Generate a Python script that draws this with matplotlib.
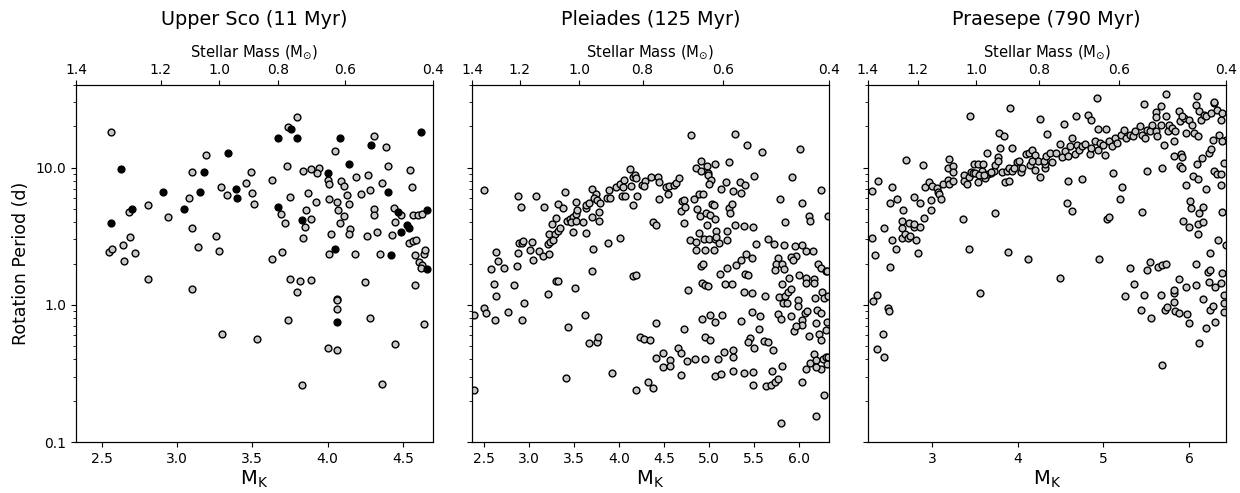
import numpy as np
import matplotlib
matplotlib.use("Agg")
import matplotlib.pyplot as plt
from matplotlib.ticker import FuncFormatter

# Upper Sco: (M_K, period in days); two groups of stars
usco_gray = [(2.56, 18.3), (2.55, 2.42), (2.57, 2.55), (2.64, 2.71), (2.69, 3.10), (2.68, 4.71), (2.65, 2.09),
             (2.72, 2.38), (2.81, 5.32), (2.81, 1.54), (2.94, 4.38), (3.08, 6.05), (3.10, 9.3), (3.10, 3.62),
             (3.10, 1.31), (3.14, 2.65), (3.19, 12.3), (3.26, 3.20), (3.28, 2.47), (3.29, 7.2), (3.33, 6.33),
             (3.30, 0.617), (3.46, 7.78), (3.49, 9.25), (3.50, 6.48), (3.51, 5.47), (3.53, 0.565), (3.63, 2.17),
             (3.63, 8.13), (3.73, 10.2), (3.75, 6.15), (3.74, 19.9), (3.80, 23.2), (3.69, 4.58), (3.72, 3.94),
             (3.70, 2.44), (3.75, 1.55), (3.82, 1.49), (3.89, 1.52), (3.80, 1.25), (3.74, 0.771), (3.83, 0.260),
             (3.84, 9.46), (3.89, 9.72), (3.94, 9.89), (3.93, 9.2), (3.87, 6.58), (3.86, 4.87), (3.85, 3.70),
             (3.84, 3.07), (3.89, 4.19), (3.92, 5.60), (4.00, 8.13), (4.01, 7.6), (4.01, 5.92), (4.02, 3.27),
             (4.01, 2.34), (4.05, 13.3), (4.06, 5.6), (4.07, 4.90), (4.09, 8.0), (4.11, 7.36), (4.13, 6.3),
             (4.14, 5.44), (4.11, 4.41), (4.08, 3.92), (4.15, 3.56), (4.14, 3.26), (4.18, 2.33), (4.06, 1.11),
             (4.06, 1.08), (4.06, 0.927), (4.00, 0.487), (4.06, 0.467), (4.19, 8.55), (4.22, 6.43), (4.27, 8.85),
             (4.28, 6.89), (4.31, 17.1), (4.31, 4.96), (4.31, 4.53), (4.33, 3.41), (4.26, 3.17), (4.25, 1.46),
             (4.28, 0.802), (4.36, 7.69), (4.35, 2.36), (4.36, 0.265), (4.39, 14.2), (4.40, 10.2), (4.43, 3.24),
             (4.44, 5.09), (4.45, 4.03), (4.49, 4.53), (4.45, 0.522), (4.55, 9.57), (4.56, 7.28), (4.57, 4.5),
             (4.54, 2.83), (4.57, 2.9), (4.59, 2.99), (4.58, 2.32), (4.58, 1.39), (4.61, 2.04), (4.63, 1.95),
             (4.62, 1.87), (4.64, 2.34), (4.65, 2.49), (4.64, 0.730), (4.60, 4.53), (4.63, 4.58)]
usco_black = [(2.56, 3.98), (2.63, 9.84), (2.70, 4.97), (2.91, 6.65), (3.05, 4.97), (3.15, 6.65), (3.18, 9.35),
              (3.34, 12.8), (3.39, 7.0), (3.40, 5.98), (3.67, 16.5), (3.67, 5.12), (3.76, 19.0), (3.80, 16.3),
              (3.83, 4.14), (4.05, 2.55), (4.06, 0.747), (4.08, 16.5), (4.14, 10.7), (4.29, 14.5), (4.40, 6.68),
              (4.42, 2.29), (4.47, 4.71), (4.49, 3.41), (4.53, 3.79), (4.54, 3.64), (4.62, 18.2), (4.66, 1.83),
              (4.66, 4.92), (4.00, 9.1)]

pleiades = [(2.50, 6.88), (2.88, 6.19), (3.08, 6.19), (2.91, 5.12), (3.17, 5.12), (3.40, 6.68), (3.32, 5.44),
            (3.38, 5.04), (3.30, 4.29), (3.26, 3.85), (3.22, 3.26), (3.29, 3.29), (3.32, 3.44), (3.35, 3.60),
            (3.42, 4.05), (3.46, 4.19), (3.49, 4.38), (3.52, 4.58), (3.54, 4.92), (3.52, 5.60), (3.47, 4.00),
            (3.52, 4.05), (3.49, 3.39), (3.60, 4.00), (3.64, 3.31), (3.63, 5.04), (3.64, 5.38), (3.67, 5.51),
            (3.70, 6.95), (3.75, 6.37), (3.72, 5.96), (3.76, 5.78), (3.79, 5.51), (3.78, 4.71), (3.70, 4.33),
            (3.78, 4.09), (3.71, 2.55), (3.88, 2.82), (4.01, 3.08), (3.87, 6.01), (3.90, 6.01), (3.89, 6.92),
            (3.97, 7.28), (4.01, 7.60), (4.06, 8.09), (4.05, 7.23), (4.04, 6.22), (4.07, 6.22), (4.12, 9.84),
            (4.13, 7.31), (4.16, 8.55), (4.18, 8.89), (4.19, 8.36), (4.20, 6.19), (4.16, 5.35), (4.26, 7.45),
            (4.29, 7.96), (4.28, 7.31), (4.16, 1.62), (4.19, 1.66), (3.70, 1.76), (3.51, 1.33), (3.30, 1.48),
            (3.32, 1.48), (3.21, 1.20), (3.62, 0.843), (3.44, 0.693), (3.67, 0.528), (3.76, 0.540), (3.77, 0.581),
            (3.41, 0.295), (3.92, 0.318), (4.19, 0.238), (4.23, 0.583), (4.28, 0.565), (4.34, 0.552), (4.32, 0.272),
            (2.39, 0.241), (2.39, 0.849), (2.50, 0.944), (2.53, 0.877), (2.63, 0.780), (2.77, 0.887), (2.93, 0.780),
            (2.95, 1.03), (2.64, 1.15), (2.61, 1.42), (2.58, 1.83), (2.66, 2.07), (2.64, 2.41), (2.73, 1.86),
            (2.84, 1.40), (2.87, 1.91), (2.88, 2.40), (2.89, 2.80), (2.92, 2.81), (2.94, 2.94), (3.01, 2.51),
            (3.04, 2.86), (3.05, 2.13), (3.11, 2.48), (3.16, 2.28), (3.22, 2.35), (3.21, 2.79), (3.24, 2.88),
            (3.27, 2.98),
            (4.80, 17.3), (5.29, 17.6), (5.42, 14.6), (5.59, 13.1), (6.01, 13.7), (4.91, 11.2), (4.85, 9.95),
            (4.91, 9.46), (4.98, 10.2), (4.99, 9.15), (4.99, 8.8), (5.02, 8.18), (5.07, 10.7), (5.22, 11.0),
            (5.00, 7.6), (4.36, 8.51), (4.43, 8.6), (4.45, 7.87), (4.52, 7.23), (4.56, 7.4), (4.55, 6.44),
            (4.61, 7.48), (4.63, 7.78), (4.67, 8.41), (4.45, 5.95), (5.13, 6.95), (5.19, 7.82), (5.27, 6.76),
            (5.34, 7.87), (5.40, 7.52), (5.35, 6.58), (5.50, 8.65), (5.92, 8.6), (6.24, 6.89), (5.79, 5.92),
            (6.03, 5.53), (4.70, 5.73), (4.72, 5.79), (4.69, 4.82), (4.73, 5.2), (4.83, 5.92), (4.89, 6.44),
            (4.93, 6.47), (4.87, 4.98), (4.90, 4.43), (4.97, 4.66), (5.03, 5.47), (5.06, 5.38), (5.01, 4.53),
            (5.07, 4.24), (4.98, 3.81), (5.08, 3.44), (5.22, 5.09), (5.25, 5.44), (5.23, 4.66), (5.20, 3.48),
            (5.29, 3.83), (5.39, 3.77), (5.49, 3.71), (6.11, 4.41), (6.12, 4.07), (5.84, 4.03), (4.38, 4.01),
            (4.41, 3.83), (4.72, 3.96), (4.79, 2.98), (4.85, 2.86), (4.89, 3.35), (4.94, 3.03), (5.00, 3.03),
            (5.07, 3.03), (5.11, 2.80), (5.08, 3.10), (5.20, 2.99), (4.86, 2.49), (4.95, 2.49), (5.06, 2.50),
            (5.52, 2.79), (5.65, 3.03), (5.72, 2.79), (5.83, 2.71), (5.95, 2.69), (6.03, 2.72), (6.07, 2.46),
            (6.15, 2.45), (5.97, 2.28), (5.91, 2.23), (5.93, 2.11), (4.91, 1.92), (4.93, 1.97), (5.20, 1.85),
            (5.30, 1.96), (5.36, 2.12), (5.41, 2.33), (5.48, 2.21), (5.40, 1.69), (5.43, 1.64), (5.12, 1.69),
            (5.76, 2.18), (5.74, 1.99), (5.81, 1.98), (5.73, 1.79), (5.83, 1.83), (6.21, 1.97), (6.24, 1.85),
            (6.30, 1.76), (6.00, 1.66), (6.08, 1.57), (6.08, 1.45), (6.16, 1.53), (6.16, 1.43), (5.89, 1.57),
            (5.81, 1.42), (4.77, 1.29), (4.92, 1.43), (4.96, 1.39), (4.99, 1.38), (5.18, 1.41), (5.25, 1.41),
            (5.39, 1.25), (5.48, 1.21), (5.62, 1.15), (5.78, 1.14), (5.84, 1.16), (5.88, 1.25), (5.91, 1.31),
            (5.82, 1.03), (5.86, 1.03), (5.99, 1.09), (5.99, 0.976), (6.06, 0.867), (6.09, 0.901), (6.18, 1.13),
            (6.25, 1.23), (6.27, 1.12), (6.20, 0.923), (6.24, 0.867), (4.41, 0.738), (4.72, 0.671), (4.92, 0.785),
            (5.01, 0.844), (5.07, 0.75), (5.14, 0.839), (5.35, 0.768), (5.48, 0.891), (5.57, 0.83), (5.55, 0.667),
            (5.77, 0.863), (5.80, 0.785), (5.91, 0.834), (6.03, 0.776), (6.03, 0.718), (5.94, 0.646), (5.96, 0.698),
            (6.19, 0.738), (6.22, 0.614), (6.11, 0.593), (6.24, 0.555), (6.30, 0.659), (4.96, 0.587), (5.01, 0.555),
            (5.45, 0.571), (5.43, 0.537), (5.50, 0.483), (5.61, 0.549), (5.65, 0.537), (5.71, 0.467), (4.66, 0.485),
            (4.69, 0.449), (4.49, 0.444), (4.41, 0.408), (4.57, 0.399), (4.49, 0.353), (4.57, 0.359), (4.75, 0.391),
            (4.84, 0.402), (4.95, 0.404), (5.10, 0.404), (5.17, 0.452), (5.27, 0.472), (5.27, 0.415), (4.69, 0.309),
            (5.07, 0.304), (5.13, 0.313), (5.27, 0.328), (5.39, 0.32), (5.49, 0.325), (5.49, 0.26), (5.63, 0.258),
            (5.69, 0.26), (5.73, 0.273), (5.77, 0.286), (5.70, 0.332), (5.81, 0.361), (6.03, 0.276), (6.07, 0.338),
            (6.12, 0.374), (6.16, 0.44), (6.19, 0.393), (6.24, 0.343), (6.26, 0.404), (6.30, 0.418), (6.19, 0.351),
            (6.28, 0.22), (6.19, 0.155), (5.80, 0.137), (4.38, 0.247),
            (6.32, 4.45), (6.31, 1.75), (6.32, 1.15), (6.31, 0.75), (6.32, 0.42), (6.31, 0.37)]

praesepe = [(2.30, 6.80), (2.36, 7.96), (2.53, 7.28), (2.50, 5.53), (2.59, 5.95), (2.78, 6.15), (2.86, 5.53),
            (2.66, 4.92), (2.69, 11.3), (2.89, 10.4), (2.91, 7.28), (2.96, 7.82), (2.99, 5.85), (2.99, 4.95),
            (3.00, 7.40), (3.06, 7.11), (3.07, 6.62), (3.08, 6.37), (3.10, 5.92), (3.13, 7.65), (3.18, 8.13),
            (3.19, 7.60), (3.20, 11.5), (3.18, 10.0), (3.24, 10.2), (3.24, 9.25), (3.24, 8.0), (3.37, 8.8),
            (3.37, 7.96), (3.41, 7.57), (3.43, 8.51), (3.45, 9.3), (3.48, 9.1), (3.50, 9.15), (3.49, 10.6),
            (3.53, 10.6), (3.53, 7.82), (3.58, 9.4), (3.59, 10.7), (3.61, 8.46), (3.64, 12.7), (3.65, 9.0),
            (3.68, 9.1), (3.72, 9.4), (3.73, 10.4), (3.77, 11.9), (3.77, 11.1), (3.81, 9.35), (3.85, 7.91),
            (3.90, 7.96), (3.87, 9.5), (3.90, 9.89), (3.93, 9.46), (3.99, 11.0), (4.01, 11.2), (4.04, 9.3),
            (4.09, 12.6), (4.13, 12.7), (4.17, 13.4), (4.14, 10.4), (4.20, 12.4), (4.24, 11.2), (4.26, 8.51),
            (4.20, 9.66), (4.32, 10.0), (4.32, 10.6), (3.44, 23.6), (3.91, 27.3), (4.26, 22.7), (3.78, 17.8),
            (3.84, 17.1), (3.79, 13.8), (3.93, 13.9), (4.34, 17.6), (2.44, 3.60), (2.30, 3.08), (2.33, 2.31),
            (2.53, 2.98), (2.57, 2.56), (2.64, 3.06), (2.65, 4.05), (2.64, 3.64), (2.68, 3.29), (2.71, 3.08),
            (2.74, 3.15), (2.73, 3.96), (2.78, 3.68), (2.81, 2.98), (2.83, 2.40), (2.85, 3.68), (2.90, 4.26),
            (2.78, 3.85), (2.50, 1.88), (2.35, 1.18), (2.31, 1.07), (2.48, 0.955), (2.49, 0.902), (2.42, 0.617),
            (2.35, 0.48), (2.44, 0.417), (3.36, 4.21), (3.73, 4.68), (3.43, 2.54), (3.88, 2.44), (4.12, 2.14),
            (3.56, 1.22), (3.54, 8.9), (3.60, 8.9), (3.69, 9.3), (3.95, 10.0), (4.05, 10.0), (4.17, 11.1),
            (4.31, 11.1), (4.33, 12.1), (4.37, 12.8), (4.40, 11.0), (4.45, 12.8), (4.49, 14.9), (4.51, 11.9),
            (4.55, 13.2), (4.59, 12.1), (4.61, 14.3), (4.63, 16.4), (4.67, 12.6), (4.69, 14.7), (4.71, 13.5),
            (4.75, 14.3), (4.78, 14.9), (4.84, 12.6), (4.86, 13.9), (4.90, 15.7), (4.94, 13.5), (4.96, 15.1),
            (5.00, 14.7), (5.02, 12.4), (5.06, 15.5), (5.10, 14.3), (5.14, 16.4), (5.16, 15.1), (5.20, 17.4),
            (5.24, 18.9), (5.26, 16.4), (5.31, 17.4), (5.35, 16.9), (5.37, 18.4), (5.43, 20.0), (5.45, 17.4),
            (5.49, 16.4), (5.51, 18.9), (5.55, 18.4), (5.57, 20.5), (5.61, 18.4), (5.63, 16.9), (5.67, 20.5),
            (5.71, 14.7), (5.73, 23.6), (5.75, 18.4), (5.77, 20.5), (5.80, 19.4), (5.82, 15.5), (5.84, 18.4),
            (5.88, 25.7), (5.90, 21.7), (5.94, 23.0), (5.96, 17.9), (6.00, 22.3), (6.04, 20.5), (6.06, 17.9),
            (6.08, 28.7), (6.10, 16.9), (6.12, 25.7), (6.14, 22.3), (6.18, 24.3), (6.20, 23.6), (6.26, 25.0),
            (6.28, 16.0), (6.29, 29.5), (6.33, 26.4), (6.35, 17.4), (6.37, 22.3), (6.39, 25.0), (6.43, 16.0),
            (6.39, 15.5), (4.93, 32.1), (5.48, 29.0), (5.73, 34.4), (6.09, 33.0), (6.29, 30.1), (5.67, 27.9),
            (5.61, 25.4), (5.62, 23.2), (4.54, 20.8), (4.68, 23.6), (4.82, 24.0), (4.86, 22.3), (4.94, 19.1),
            (5.03, 19.2), (5.92, 23.6), (4.59, 7.96), (4.75, 8.32), (4.58, 5.51), (4.63, 4.84), (5.11, 9.15),
            (5.22, 7.28), (5.19, 5.92), (5.04, 4.19), (5.07, 4.38), (5.45, 4.71), (5.51, 9.4), (5.69, 10.0),
            (5.82, 12.2), (5.91, 12.6), (5.92, 11.9), (5.89, 10.2), (5.92, 10.0), (5.97, 7.48), (6.05, 8.65),
            (6.11, 8.28), (6.09, 10.6), (6.15, 11.8), (6.20, 7.0), (6.24, 12.8), (6.26, 13.6), (6.29, 9.4),
            (6.33, 9.0), (6.37, 9.0), (6.37, 7.52), (6.41, 10.8), (6.01, 5.69), (6.02, 5.09), (6.12, 4.68),
            (6.17, 5.15), (6.10, 3.89), (6.17, 4.0), (5.93, 4.07), (6.00, 3.68), (6.11, 3.26), (6.39, 4.73),
            (6.34, 2.96), (6.43, 2.72), (6.25, 2.39), (4.95, 2.14), (4.49, 1.57), (5.31, 1.84), (5.36, 1.41),
            (5.25, 1.15), (5.47, 1.18), (5.44, 0.912), (5.56, 0.807), (5.51, 1.80), (5.55, 2.06), (5.64, 1.88),
            (5.69, 1.96), (5.73, 1.97), (5.67, 1.18), (5.72, 0.912), (5.74, 0.964), (5.82, 1.21), (5.83, 1.04),
            (5.82, 1.28), (5.88, 1.53), (5.84, 0.902), (5.88, 0.872), (5.97, 1.35), (5.98, 0.853), (6.00, 0.741),
            (6.08, 1.39), (6.08, 1.97), (6.17, 1.10), (6.22, 1.74), (6.25, 1.78), (6.24, 1.47), (6.31, 1.35),
            (6.25, 0.912), (6.28, 0.976), (6.31, 0.746), (6.20, 0.674), (6.12, 0.525), (6.37, 1.45), (6.39, 1.71),
            (6.41, 1.18), (6.41, 1.03), (6.41, 0.887), (5.68, 0.366)]

titles = ["Upper Sco (11 Myr)", "Pleiades (125 Myr)", "Praesepe (790 Myr)"]
mk_limits = [(2.33, 4.70), (2.37, 6.33), (2.245, 6.43)]
mk_ticks = [[2.5, 3.0, 3.5, 4.0, 4.5], [2.5, 3.0, 3.5, 4.0, 4.5, 5.0, 5.5, 6.0], [3, 4, 5, 6]]
mass_labels = ["1.4", "1.2", "1.0", "0.8", "0.6", "0.4"]
# M_K where each mass label sits, per cluster age
mass_mk = [[2.33, 2.893, 3.28, 3.673, 4.115, 4.70],
           [2.37, 2.90, 3.56, 4.262, 5.153, 6.33],
           [2.245, 2.828, 3.516, 4.246, 5.184, 6.43]]

gray = "#c8c8c8"

fig = plt.figure(figsize=(12.4, 4.93), dpi=100)
lefts = [0.0613, 0.3806, 0.6998]
widths = [0.2879, 0.2879, 0.2887]

groups = [[(usco_gray, gray), (usco_black, "black")], [(pleiades, gray)], [(praesepe, gray)]]

for i in range(3):
    ax = fig.add_axes([lefts[i], 0.1034, widths[i], 0.7242])
    for pts, col in groups[i]:
        mk, per = np.array(pts).T
        ax.scatter(mk, per, s=24, c=col, edgecolors="black", linewidths=1.0)
    ax.set_yscale("log")
    ax.set_ylim(0.1, 40)
    ax.set_xlim(*mk_limits[i])
    ax.set_xticks(mk_ticks[i])
    ax.set_yticks([0.1, 1, 10])
    if i == 0:
        ax.yaxis.set_major_formatter(FuncFormatter(lambda v, pos: f"{v:.1f}"))
        ax.set_ylabel("Rotation Period (d)", fontsize=12.5)
    else:
        ax.set_yticklabels([])
    ax.tick_params(labelsize=10)
    ax.set_xlabel(r"M$_{\rm K}$", fontsize=14, labelpad=2)

    top = ax.twiny()
    top.set_xlim(ax.get_xlim())
    top.set_xticks(mass_mk[i])
    top.set_xticklabels(mass_labels)
    top.tick_params(labelsize=10, pad=2)
    top.set_xlabel(r"Stellar Mass (M$_{\odot}$)", fontsize=10.6, labelpad=5)
    top.set_title(titles[i], fontsize=13.9, pad=13)

fig.savefig("out.png", dpi=100)
